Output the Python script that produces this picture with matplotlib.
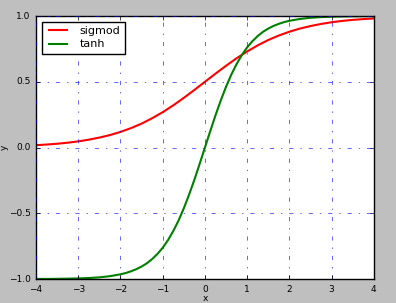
import matplotlib
matplotlib.use("Agg")
import matplotlib.pyplot as plt

plt.style.use("classic")

# sigmoid curve
x_sig = [-4.0, -3.75, -3.5, -3.25, -3.0, -2.75, -2.5, -2.25, -2.0, -1.75, -1.5, -1.25,
         -1.0, -0.75, -0.5, -0.25, 0.0, 0.25, 0.5, 0.75, 1.0, 1.25, 1.5, 1.75,
         2.0, 2.25, 2.5, 2.75, 3.0, 3.25, 3.5, 3.75, 4.0]
y_sig = [0.018, 0.023, 0.029, 0.037, 0.047, 0.060, 0.076, 0.095, 0.119, 0.148, 0.182, 0.223,
         0.269, 0.321, 0.378, 0.438, 0.500, 0.562, 0.622, 0.679, 0.731, 0.777, 0.818, 0.852,
         0.881, 0.905, 0.924, 0.940, 0.953, 0.963, 0.971, 0.977, 0.982]

# tanh curve
x_tanh = [-4.0, -3.75, -3.5, -3.25, -3.0, -2.75, -2.5, -2.25,
          -2.0, -1.875, -1.75, -1.625, -1.5, -1.375, -1.25, -1.125,
          -1.0, -0.875, -0.75, -0.625, -0.5, -0.375, -0.25, -0.125,
          0.0, 0.125, 0.25, 0.375, 0.5, 0.625, 0.75, 0.875,
          1.0, 1.125, 1.25, 1.375, 1.5, 1.625, 1.75, 1.875,
          2.0, 2.25, 2.5, 2.75, 3.0, 3.25, 3.5, 3.75, 4.0]
y_tanh = [-0.999, -0.999, -0.998, -0.997, -0.995, -0.992, -0.987, -0.978,
          -0.964, -0.954, -0.941, -0.925, -0.905, -0.880, -0.848, -0.809,
          -0.762, -0.704, -0.635, -0.555, -0.462, -0.358, -0.245, -0.124,
          0.0, 0.124, 0.245, 0.358, 0.462, 0.555, 0.635, 0.704,
          0.762, 0.809, 0.848, 0.880, 0.905, 0.925, 0.941, 0.954,
          0.964, 0.978, 0.987, 0.992, 0.995, 0.997, 0.998, 0.999, 0.999]

xticks = [-4, -3, -2, -1, 0, 1, 2, 3, 4]
yticks = [-1.0, -0.5, 0.0, 0.5, 1.0]

fig = plt.figure(figsize=(3.96, 3.03), dpi=100, facecolor="#bfbfbf")
ax = fig.add_axes([0.091, 0.079, 0.853, 0.868])

ax.plot(x_sig, y_sig, color="red", linewidth=1.5, label="sigmod")
ax.plot(x_tanh, y_tanh, color="green", linewidth=1.5, label="tanh")

ax.set_xlim(-4, 4)
ax.set_ylim(-1, 1)
ax.set_xticks(xticks)
ax.set_yticks(yticks)
ax.tick_params(labelsize=6.5, length=3)
ax.set_xlabel("x", fontsize=6.5, labelpad=0)
ax.set_ylabel("y", fontsize=6.5, labelpad=0)

ax.grid(True, color="blue", linestyle="-.", linewidth=0.6, alpha=0.7)

ax.legend(loc="upper left", fontsize=8, handlelength=2.2, borderpad=0.4,
          labelspacing=0.3, framealpha=1)

fig.savefig("out.png", dpi=100, facecolor=fig.get_facecolor())
